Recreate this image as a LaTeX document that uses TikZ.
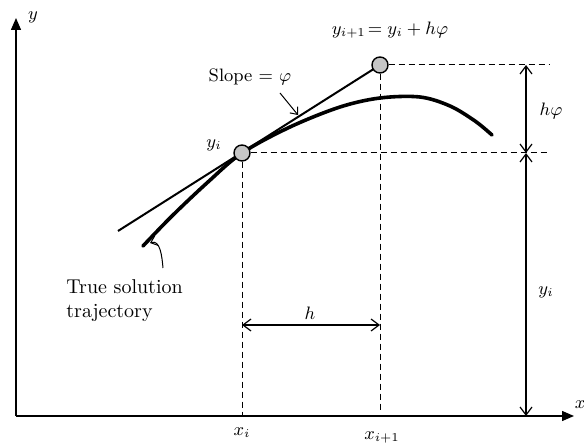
\documentclass[tikz,border=0pt]{standalone}
\usepackage{amsmath, amssymb}
\usepackage{tikz}
\usetikzlibrary{arrows.meta}

\begin{document}
\begin{tikzpicture}[x=0.5pt,y=-0.5pt,
  every node/.style={font=\small},
  dot/.style={draw,circle,fill=gray!45,line width=0.7pt,
    minimum size=8pt,inner sep=0pt},
  axis/.style={-{Triangle[length=6pt,width=5pt]},line width=0.7pt},
  dim/.style={{Straight Barb[length=4pt,width=6pt]}-{Straight Barb[length=4pt,width=6pt]},line width=0.6pt},
  guide/.style={dashed,line width=0.5pt,dash pattern=on 3pt off 2pt},
  note/.style={-{Straight Barb[length=3pt,width=5pt]},line width=0.5pt}]
  \useasboundingbox (0,0) rectangle (584,443);
  \coordinate (O)  at (16,416);
  \coordinate (xe) at (574,416);
  \coordinate (ye) at (16,18);
  \node (ylab) at (33,17)  {$y$};
  \node (xlab) at (580,405) {$x$};
  \draw[axis] (O)--(xe); \draw[axis] (O)--(ye);
  % tangent and true solution
  \coordinate (t0) at (118,231);
  \coordinate (yip) at (242,153);
  \coordinate (ynp) at (380,65);
  \draw[line width=1pt] (t0)--(ynp);
  \draw[line width=1.8pt,line cap=round] plot[smooth,tension=0.55] coordinates
    {(143,246) (172,216) (208,182) (242,153) (290,127) (340,107) (380,98) (420,97) (450,106) (475,121) (492,135)};
  \node[dot] (yi) at (yip) {};
  \node[dot] (yn) at (ynp) {};
  % guide lines
  \coordinate (yir) at (550,153);
  \coordinate (ynr) at (550,65);
  \coordinate (xib) at (242,416);
  \coordinate (xnb) at (380,410);
  \draw[guide] (yi)--(yir); \draw[guide] (yn)--(ynr);
  \draw[guide] (yi)--(xib); \draw[guide] (yn)--(xnb);
  % dimensions
  \coordinate (d1) at (526,65);
  \coordinate (d2) at (526,153);
  \coordinate (d3) at (526,416);
  \coordinate (h1) at (242,325);
  \coordinate (h2) at (380,325);
  \draw[dim] (d1)--(d2); \draw[dim] (d2)--(d3); \draw[dim] (h1)--(h2);
  \node (hphi) at (551,111) {$h\varphi$};
  \node (yilr) at (546,292) {$y_i$};
  \node (hlab) at (310,313) {$h$};
  \node (xi)   at (242,433) {$x_i$};
  \node (xn)   at (382,437) {$x_{i+1}$};
  \node (yil)  at (214,145) {$y_i$};
  \node (eq)   at (390,30)  {$y_{i+1}\!= y_i + h\varphi$};
  % notes
  \node (slope) at (250,77) {Slope = $\varphi$};
  \coordinate (s1) at (280,93);
  \coordinate (s2) at (298,115);
  \draw[note] (s1)--(s2);
  \node[anchor=west,align=left,inner sep=0pt,font=\normalsize] (tst) at (66,301)
    {True solution\\trajectory};
  \coordinate (c1) at (163,268);
  \coordinate (c2) at (150,243);
  \draw[note] (c1) to[out=95,in=20] (c2);
\end{tikzpicture}
\end{document}
